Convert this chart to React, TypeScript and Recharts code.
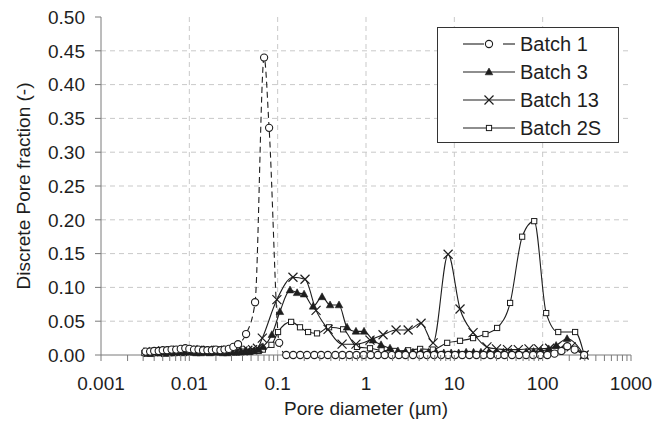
import React from 'react';
import { LineChart, Line, XAxis, YAxis, ReferenceLine } from 'recharts';

// ---------- data ----------
const decadeLabels = ['0.001', '0.01', '0.1', '1', '10', '100', '1000'];
const yTickValues = [0, 0.05, 0.1, 0.15, 0.2, 0.25, 0.3, 0.35, 0.4, 0.45, 0.5];

const batch1D = [0.0032, 0.0036, 0.004, 0.0045, 0.005, 0.0056, 0.0063, 0.0071, 0.008, 0.009, 0.01, 0.0113, 0.0127, 0.0143, 0.016, 0.018, 0.02, 0.0225, 0.025, 0.028, 0.0315, 0.0356, 0.0439, 0.0555, 0.0702, 0.08, 0.104, 0.125, 0.15, 0.18, 0.215, 0.26, 0.31, 0.37, 0.45, 0.54, 0.65, 0.78, 0.94, 1.13, 1.36, 1.63, 1.96, 2.35, 2.8, 3.4, 4.1, 4.9, 5.9, 7.1, 8.5, 10.2, 12.3, 14.8, 17.8, 21.4, 25.7, 31, 37, 45, 54, 65, 78, 94, 113, 136, 163, 190, 230, 295];
const batch1V = [0.005, 0.005, 0.006, 0.006, 0.007, 0.007, 0.008, 0.008, 0.009, 0.01, 0.009, 0.008, 0.008, 0.007, 0.007, 0.007, 0.008, 0.007, 0.008, 0.009, 0.012, 0.016, 0.031, 0.078, 0.44, 0.336, 0.018, 0, 0, 0, 0, 0, 0, 0, 0, 0, 0, 0, 0, 0, 0, 0, 0, 0, 0, 0, 0, 0, 0, 0, 0, 0, 0, 0, 0, 0, 0, 0, 0, 0, 0, 0, 0, 0, 0, 0.002, 0.006, 0.013, 0.008, 0];

const batch3D = [0.0033, 0.0037, 0.0042, 0.0047, 0.0053, 0.006, 0.0067, 0.0075, 0.0085, 0.0095, 0.0107, 0.012, 0.0135, 0.015, 0.017, 0.019, 0.0215, 0.024, 0.027, 0.03, 0.034, 0.038, 0.043, 0.048, 0.054, 0.061, 0.068, 0.086, 0.106, 0.138, 0.166, 0.199, 0.252, 0.318, 0.392, 0.495, 0.61, 0.77, 0.95, 1.2, 1.48, 1.87, 2.3, 2.8, 3.4, 4.2, 5.1, 6.2, 7.6, 9.2, 11.2, 13.6, 16.5, 20, 24.5, 30, 36, 44, 53, 65, 79, 96, 117, 142, 189, 295];
const batch3V = [0.002, 0.002, 0.003, 0.003, 0.002, 0.003, 0.003, 0.004, 0.003, 0.004, 0.004, 0.003, 0.003, 0.004, 0.003, 0.004, 0.004, 0.003, 0.003, 0.004, 0.004, 0.004, 0.005, 0.005, 0.006, 0.008, 0.012, 0.03, 0.064, 0.096, 0.092, 0.09, 0.072, 0.086, 0.074, 0.074, 0.041, 0.035, 0.035, 0.022, 0.015, 0.01, 0.006, 0.005, 0.004, 0.004, 0.004, 0.004, 0.003, 0.003, 0.003, 0.004, 0.004, 0.004, 0.004, 0.004, 0.004, 0.004, 0.004, 0.004, 0.005, 0.006, 0.009, 0.014, 0.024, 0];

const batch13D = [0.0034, 0.0039, 0.0044, 0.005, 0.0057, 0.0065, 0.0074, 0.0084, 0.0096, 0.011, 0.0125, 0.0142, 0.0162, 0.0185, 0.021, 0.024, 0.0273, 0.031, 0.0355, 0.0405, 0.046, 0.052, 0.059, 0.067, 0.098, 0.149, 0.204, 0.272, 0.372, 0.536, 0.77, 1.11, 1.56, 2.19, 3.0, 4.2, 5.75, 8.5, 11.6, 16.3, 23.4, 30, 40, 53, 70, 90, 120, 160, 210, 295];
const batch13V = [0.004, 0.005, 0.004, 0.006, 0.005, 0.006, 0.007, 0.006, 0.007, 0.008, 0.007, 0.006, 0.007, 0.006, 0.007, 0.006, 0.007, 0.006, 0.007, 0.006, 0.007, 0.008, 0.01, 0.025, 0.082, 0.115, 0.112, 0.066, 0.038, 0.016, 0.016, 0.022, 0.03, 0.037, 0.037, 0.047, 0.018, 0.149, 0.068, 0.033, 0.012, 0.009, 0.008, 0.008, 0.009, 0.009, 0.01, 0.01, 0.012, 0];

const batch2SD = [0.0031, 0.0035, 0.004, 0.0046, 0.0052, 0.0059, 0.0067, 0.0076, 0.0087, 0.0099, 0.0113, 0.0128, 0.0146, 0.0166, 0.0189, 0.0215, 0.0245, 0.028, 0.032, 0.0365, 0.0415, 0.047, 0.054, 0.061, 0.068, 0.085, 0.101, 0.142, 0.179, 0.221, 0.279, 0.382, 0.551, 0.79, 1.11, 1.5, 2.1, 3.0, 4.1, 5.7, 8.3, 11.6, 16.3, 22.5, 30.5, 42.8, 58.6, 80.2, 109.6, 150, 233, 295];
const batch2SV = [0.003, 0.003, 0.004, 0.003, 0.004, 0.004, 0.003, 0.004, 0.004, 0.005, 0.004, 0.004, 0.005, 0.004, 0.004, 0.005, 0.004, 0.005, 0.004, 0.005, 0.005, 0.005, 0.006, 0.006, 0.008, 0.015, 0.034, 0.049, 0.041, 0.034, 0.032, 0.041, 0.038, 0.012, 0.01, 0.007, 0.006, 0.007, 0.009, 0.008, 0.018, 0.021, 0.025, 0.031, 0.04, 0.077, 0.175, 0.198, 0.062, 0.034, 0.034, 0];

const seriesNames = ['Batch 1', 'Batch 3', 'Batch 13', 'Batch 2S'];

const toPoints = (ds: number[], vs: number[]) => ds.map((d, i) => ({ d, v: vs[i] }));
const batch1 = toPoints(batch1D, batch1V);
const batch3 = toPoints(batch3D, batch3V);
const batch13 = toPoints(batch13D, batch13V);
const batch2S = toPoints(batch2SD, batch2SV);

const decadeValues = decadeLabels.map(Number);
const xTicks: number[] = [];
decadeValues.forEach((dv, i) => {
  xTicks.push(dv);
  if (i < decadeValues.length - 1) for (let m = 2; m <= 9; m++) xTicks.push(+(dv * m).toPrecision(3));
});

// ---------- styles ----------
const INK = '#1e1e1e';
const AXIS = '#7a7a7a';
const GRID = '#c9c9c9';
const FONT = '"Liberation Sans", Arial, sans-serif';
const FS = 19;

// ---------- markers ----------
const CircleDot = (p: any) => (
  <circle key={`c${p.index}`} cx={p.cx} cy={p.cy} r={3.6} fill="#fff" stroke={INK} strokeWidth={1.1} />
);
const TriDot = (p: any) => (
  <path key={`t${p.index}`} d={`M${p.cx},${p.cy - 4} L${p.cx + 3.8},${p.cy + 2.8} L${p.cx - 3.8},${p.cy + 2.8} Z`} fill={INK} stroke={INK} strokeWidth={0.6} />
);
const XDot = (p: any) => (
  <path key={`x${p.index}`} d={`M${p.cx - 4.5},${p.cy - 4.5} L${p.cx + 4.5},${p.cy + 4.5} M${p.cx - 4.5},${p.cy + 4.5} L${p.cx + 4.5},${p.cy - 4.5}`} stroke={INK} strokeWidth={1.2} fill="none" />
);
const SqDot = (p: any) => (
  <rect key={`s${p.index}`} x={p.cx - 2.6} y={p.cy - 2.6} width={5.2} height={5.2} fill="#fff" stroke={INK} strokeWidth={1} />
);

const XTick = (props: any) => {
  const { x, y, payload } = props;
  const v = payload.value;
  const idx = decadeValues.findIndex((d) => Math.abs(d - v) / d < 1e-6);
  return (
    <g>
      <line x1={x} x2={x} y1={y} y2={y + 6} stroke={AXIS} strokeWidth={1} />
      {idx >= 0 && (
        <text x={x} y={y + 35} textAnchor="middle" fontSize={FS} fill={INK} fontFamily={FONT}>
          {decadeLabels[idx]}
        </text>
      )}
    </g>
  );
};

const LegendBox = () => {
  const rows = [
    { name: seriesNames[0], Dot: CircleDot, dashed: true },
    { name: seriesNames[1], Dot: TriDot, dashed: false },
    { name: seriesNames[2], Dot: XDot, dashed: false },
    { name: seriesNames[3], Dot: SqDot, dashed: false },
  ];
  return (
    <svg width={182} height={116} style={{ display: 'block' }}>
      <rect x={0.5} y={0.5} width={181} height={115} fill="#fff" stroke="#333" strokeWidth={1} />
      {rows.map((r, i) => {
        const cy = 17 + i * 28;
        return (
          <g key={r.name}>
            {r.dashed ? (
              <>
                <line x1={26} x2={47} y1={cy} y2={cy} stroke={INK} strokeWidth={1.1} />
                <line x1={66} x2={78} y1={cy} y2={cy} stroke={INK} strokeWidth={1.1} />
              </>
            ) : (
              <line x1={26} x2={78} y1={cy} y2={cy} stroke={INK} strokeWidth={1.1} />
            )}
            <r.Dot cx={52} cy={cy} index={i} />
            <text x={83} y={cy + 7} fontSize={FS + 1} fill={INK} fontFamily={FONT}>
              {r.name}
            </text>
          </g>
        );
      })}
    </svg>
  );
};

export default function App() {
  return (
    <div style={{ position: 'fixed', left: 0, top: 0, width: 654, height: 423, fontFamily: FONT, background: '#fff' }}>
      <LineChart width={654} height={423} margin={{ top: 17, right: 23, left: 0, bottom: 0 }}>
        <XAxis
          dataKey="d"
          type="number"
          scale="log"
          domain={[0.001, 1000]}
          allowDataOverflow
          ticks={xTicks}
          interval={0}
          tick={<XTick />}
          tickSize={0}
          tickMargin={0}
          tickLine={false}
          height={68}
          stroke={AXIS}
          label={{
            content: (p: any) => {
              const vb = p.viewBox;
              return (
                <text x={vb.x + vb.width / 2} y={415} textAnchor="middle" fontSize={FS} fill={INK} fontFamily={FONT}>
                  Pore diameter (µm)
                </text>
              );
            },
          }}
        />
        <YAxis
          type="number"
          domain={[0, 0.5]}
          ticks={yTickValues}
          interval={0}
          tickFormatter={(v: number) => v.toFixed(2)}
          width={101}
          tickSize={6}
          tickMargin={10}
          stroke={AXIS}
          tick={{ fontSize: FS, fill: INK, fontFamily: FONT }}
          label={{
            content: (p: any) => {
              const vb = p.viewBox;
              const cy = vb.y + vb.height / 2;
              return (
                <text x={30} y={cy} transform={`rotate(-90 30 ${cy})`} textAnchor="middle" fontSize={FS} fill={INK} fontFamily={FONT}>
                  Discrete Pore fraction  (-)
                </text>
              );
            },
          }}
        />
        {yTickValues.slice(1, -1).map((v) => (
          <ReferenceLine key={`h${v}`} y={v} stroke={GRID} strokeDasharray="5 4" />
        ))}
        {decadeValues.slice(1, -1).map((v) => (
          <ReferenceLine key={`v${v}`} x={v} stroke={GRID} strokeDasharray="5 4" />
        ))}
        <Line data={batch2S} dataKey="v" name={seriesNames[3]} type="monotone" stroke={INK} strokeWidth={1.1} dot={SqDot} isAnimationActive={false} />
        <Line data={batch13} dataKey="v" name={seriesNames[2]} type="monotone" stroke={INK} strokeWidth={1.1} dot={XDot} isAnimationActive={false} />
        <Line data={batch3} dataKey="v" name={seriesNames[1]} type="monotone" stroke={INK} strokeWidth={1.1} dot={TriDot} isAnimationActive={false} />
        <Line data={batch1} dataKey="v" name={seriesNames[0]} type="monotone" stroke={INK} strokeWidth={1.1} strokeDasharray="6 4" dot={CircleDot} isAnimationActive={false} />
      </LineChart>
      <div style={{ position: 'absolute', left: 437, top: 27 }}>
        <LegendBox />
      </div>
    </div>
  );
}
